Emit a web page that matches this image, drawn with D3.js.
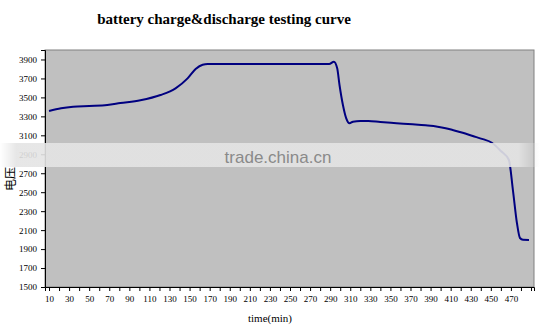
<!DOCTYPE html>
<html>
<head>
<meta charset="utf-8">
<script src="https://cdn.jsdelivr.net/npm/d3@7"></script>
<style>
  body { margin: 0; background: #fff; }
  svg { display: block; }
</style>
</head>
<body>
<div class="chart"></div>
<script>
var svgWidth = 555;
var svgHeight = 326;

// plot area margins
var margin = { top: 50, right: 21, bottom: 39, left: 45 };
var width = svgWidth - margin.left - margin.right;
var height = svgHeight - margin.top - margin.bottom;

// readings (minutes, mV)
var minutes = [10, 22, 34, 50, 68, 81, 101, 121, 136, 148, 156, 163, 168, 200, 240, 289,
  293.7, 297, 299.3, 302.7, 306, 309.3, 312.7, 320, 328, 340, 356, 372, 385, 397, 405, 412, 422, 432,
  442, 451, 460, 468, 472, 476, 479, 482, 488];
var voltage = [3356, 3385, 3402, 3410, 3420, 3440, 3470, 3525, 3596, 3701, 3800, 3845, 3852, 3852, 3852, 3852,
  3877, 3807, 3631, 3420, 3279, 3227, 3244, 3252, 3251, 3240, 3228, 3216, 3205, 3191, 3175, 3156, 3127, 3093,
  3060, 3022, 2935, 2840, 2523, 2175, 2017, 1998, 1996];

var yTicks = [1500, 1700, 1900, 2100, 2300, 2500, 2700, 2900, 3100, 3300, 3500, 3700, 3900];
var xTicks = d3.range(10, 471, 20);
var xMinorTicks = d3.range(10, 491, 10);

var svg = d3.select(".chart").append("svg")
  .attr("width", svgWidth)
  .attr("height", svgHeight);

var chartGroup = svg.append("g")
  .attr("transform", `translate(${margin.left}, ${margin.top})`);

var x_scale = d3.scaleLinear().domain([6, 493]).range([0, width]);
var y_scale = d3.scaleLinear().domain([1500, 4000]).range([height, 0]);

// grey plot background
chartGroup.append("rect")
  .attr("width", width)
  .attr("height", height)
  .attr("fill", "#c0c0c0")
  .attr("stroke", "#808080")
  .attr("stroke-width", 1);

// y axis
var leftAxis = d3.axisLeft(y_scale).tickValues(yTicks).tickSize(4).tickPadding(4)
  .tickFormat(d3.format("d"));
var yAxisG = chartGroup.append("g").call(leftAxis);
yAxisG.select(".domain").attr("stroke", "#000");
yAxisG.selectAll("text")
  .attr("font-family", "'Liberation Serif', serif")
  .attr("font-size", 9)
  .attr("fill", "#000");

// x axis
var bottomAxis = d3.axisBottom(x_scale).tickValues(xMinorTicks).tickSize(4).tickPadding(5)
  .tickFormat(function (d) { return xTicks.indexOf(d) >= 0 ? d : ""; });
var xAxisG = chartGroup.append("g")
  .attr("transform", `translate(0, ${height})`)
  .call(bottomAxis);
xAxisG.select(".domain").attr("stroke", "#000");
xAxisG.selectAll("text")
  .attr("font-family", "'Liberation Serif', serif")
  .attr("font-size", 9)
  .attr("fill", "#000");

// the curve
var line = d3.line()
  .x(function (d, i) { return x_scale(minutes[i]); })
  .y(function (d) { return y_scale(d); })
  .curve(d3.curveMonotoneX);

chartGroup.append("path")
  .datum(voltage)
  .attr("d", line)
  .attr("fill", "none")
  .attr("stroke", "#000080")
  .attr("stroke-width", 2);

// title and axis labels
svg.append("text")
  .attr("x", 224)
  .attr("y", 24)
  .attr("text-anchor", "middle")
  .attr("font-family", "'Liberation Serif', serif")
  .attr("font-weight", "bold")
  .attr("font-size", 15)
  .text("battery charge&discharge testing curve");

svg.append("text")
  .attr("x", 270)
  .attr("y", 322)
  .attr("text-anchor", "middle")
  .attr("font-family", "'Liberation Serif', serif")
  .attr("font-size", 11)
  .text("time(min)");

svg.append("text")
  .attr("transform", "translate(15, 179) rotate(-90)")
  .attr("text-anchor", "middle")
  .attr("font-family", "'Noto Sans CJK SC', sans-serif")
  .attr("font-size", 12)
  .text("电压");

// site watermark band
var grad = svg.append("defs").append("linearGradient").attr("id", "wm");
grad.append("stop").attr("offset", "0").attr("stop-color", "#e4e4e4").attr("stop-opacity", 0);
grad.append("stop").attr("offset", "0.03").attr("stop-color", "#e4e4e4").attr("stop-opacity", 0.9);
grad.append("stop").attr("offset", "0.96").attr("stop-color", "#e4e4e4").attr("stop-opacity", 0.9);
grad.append("stop").attr("offset", "1").attr("stop-color", "#e4e4e4").attr("stop-opacity", 0);
svg.append("rect")
  .attr("x", 0).attr("y", 143).attr("width", 540).attr("height", 24)
  .attr("fill", "url(#wm)");
svg.append("text")
  .attr("x", 278)
  .attr("y", 163)
  .attr("text-anchor", "middle")
  .attr("font-family", "'Liberation Sans', Arial, sans-serif")
  .attr("font-size", 17)
  .attr("fill", "#8a8a8a")
  .text("trade.china.cn");
</script>
</body>
</html>
